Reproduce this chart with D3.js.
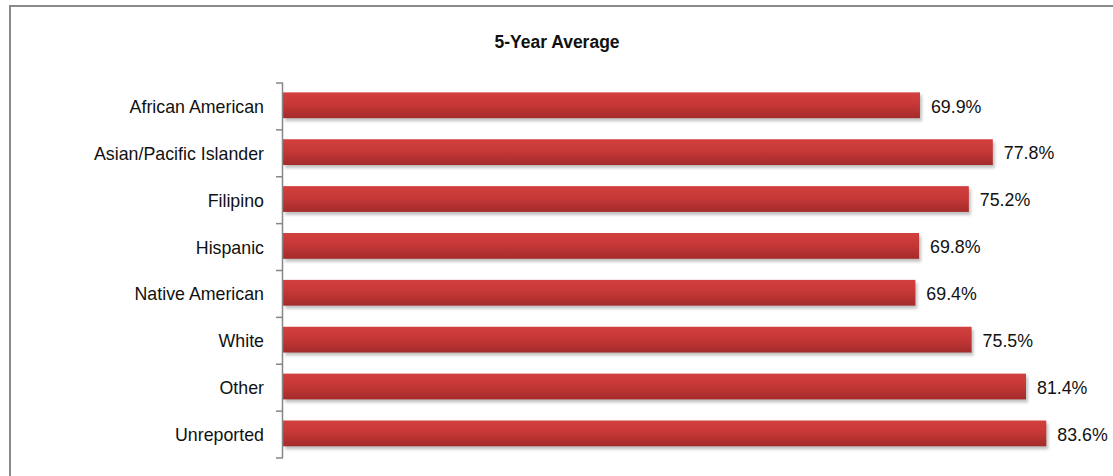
<!DOCTYPE html>
<head>
    <script src="https://d3js.org/d3.v7.min.js"></script>
    <style>
        body { margin: 0; background: white; }
        text { font-family: "Liberation Sans", Arial, sans-serif; fill: #111; }
        .label { font-size: 17.8px; }
        .title { font-size: 17.5px; font-weight: bold; }
    </style>
</head>
<body>
    <svg width="1113" height="476"></svg>
</body>
<script>
    var categories = ["African American", "Asian/Pacific Islander", "Filipino", "Hispanic",
        "Native American", "White", "Other", "Unreported"]
    var values = [69.9, 77.8, 75.2, 69.8, 69.4, 75.5, 81.4, 83.6]
    var title = "5-Year Average"

    var svg = d3.select("svg")
    var axisX = 283

    var x = d3.scaleLinear().domain([0, 90]).range([275.5, 1105.3])
    var y = d3.scaleBand().domain(categories).range([83, 458])
    var step = y.step()

    var defs = svg.append("defs")
    var grad = defs.append("linearGradient").attr("id", "barFill")
        .attr("x1", 0).attr("y1", 0).attr("x2", 0).attr("y2", 1)
    grad.append("stop").attr("offset", "0%").attr("stop-color", "#d2403f")
    grad.append("stop").attr("offset", "45%").attr("stop-color", "#c63837")
    grad.append("stop").attr("offset", "100%").attr("stop-color", "#a42b2b")
    defs.append("filter").attr("id", "blur")
        .attr("x", "-10%").attr("y", "-50%").attr("width", "120%").attr("height", "200%")
        .append("feGaussianBlur").attr("stdDeviation", 1.6)

    // outer frame (cut off at right and bottom)
    svg.append("rect")
        .attr("x", 10).attr("y", 6).attr("width", 1200).attr("height", 600)
        .attr("fill", "none").attr("stroke", "#8a8a8a").attr("stroke-width", 2)

    svg.append("text").attr("class", "title")
        .attr("x", 557).attr("y", 48).attr("text-anchor", "middle")
        .text(title)

    var rows = svg.selectAll("g.row")
        .data(categories)
        .enter().append("g").attr("class", "row")

    rows.append("rect")
        .attr("x", axisX + 2)
        .attr("y", d => y(d) + step * 0.2 + 3)
        .attr("width", (d, i) => x(values[i]) - axisX)
        .attr("height", step * 0.55)
        .attr("fill", "#8f8f8f")
        .attr("opacity", 0.55)
        .attr("filter", "url(#blur)")

    rows.append("rect")
        .attr("x", axisX)
        .attr("y", d => y(d) + step * 0.2)
        .attr("width", (d, i) => x(values[i]) - axisX)
        .attr("height", step * 0.55)
        .attr("fill", "url(#barFill)")

    rows.append("text").attr("class", "label")
        .attr("x", (d, i) => x(values[i]) + 11)
        .attr("y", d => y(d) + step * 0.47 + 7.5)
        .text((d, i) => values[i].toFixed(1) + "%")

    rows.append("text").attr("class", "label")
        .attr("x", 264)
        .attr("y", d => y(d) + step / 2 + 6.5)
        .attr("text-anchor", "end")
        .text(d => d)

    // category axis with ticks between bands
    var tickYs = categories.map(d => y(d)).concat([y.range()[1]])
    var axis = svg.append("g").attr("stroke", "#868686").attr("stroke-width", 1.5)
    axis.append("line")
        .attr("x1", axisX - 0.5).attr("x2", axisX - 0.5)
        .attr("y1", y.range()[0]).attr("y2", y.range()[1])
    axis.selectAll("line.tick")
        .data(tickYs)
        .enter().append("line").attr("class", "tick")
        .attr("x1", axisX - 7).attr("x2", axisX)
        .attr("y1", d => d).attr("y2", d => d)
</script>
